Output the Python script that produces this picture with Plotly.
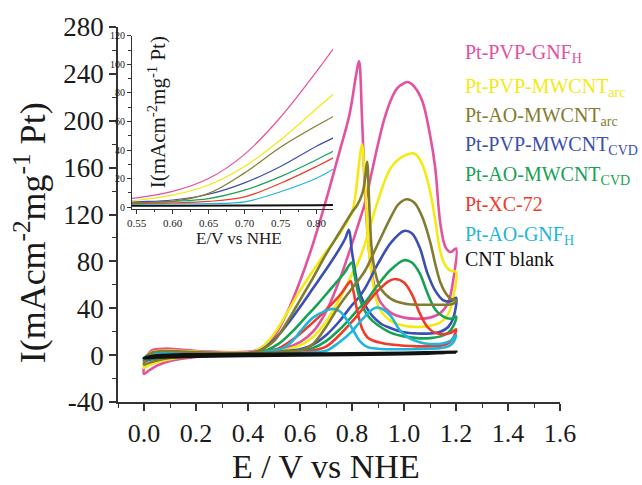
import plotly.graph_objects as go

# ---- Cyclic voltammograms (E in V vs NHE, I in mA cm-2 mg-1 Pt) ----
# each sample: anodic (forward) sweep 0 -> 1.2 V, then cathodic (reverse) sweep 1.2 -> 0 V

pvp_gnf_fwd_e = [0.0, 0.01, 0.03, 0.08, 0.15, 0.25, 0.35, 0.45, 0.55, 0.60, 0.65, 0.70, 0.75, 0.80, 0.825,
                 0.85, 0.875, 0.90, 0.925, 0.95, 0.975, 1.00, 1.015, 1.04, 1.07, 1.10, 1.12, 1.14, 1.16, 1.18, 1.20]
pvp_gnf_fwd_i = [-16, -2, 4, 5.5, 4.5, 3, 2.5, 3.5, 6.5, 11, 20, 37, 63, 95, 112,
                 130, 155, 180, 202, 218, 228, 232, 233, 229, 217, 188, 160, 112, 92, 88, 91]
pvp_gnf_rev_e = [1.20, 1.19, 1.17, 1.14, 1.10, 1.05, 1.00, 0.95, 0.91, 0.885, 0.865, 0.85, 0.838, 0.827, 0.815,
                 0.79, 0.75, 0.70, 0.65, 0.60, 0.55, 0.50, 0.45, 0.40, 0.30, 0.20, 0.10, 0.05, 0.02, 0.0]
pvp_gnf_rev_i = [91, 65, 45, 36, 32, 31, 32, 36, 45, 60, 90, 140, 205, 251, 238,
                 205, 172, 132, 95, 63, 36, 16, 6, 2, 0, -1.5, -5, -9, -13, -16]

pvp_arc_fwd_e = [0.0, 0.01, 0.03, 0.08, 0.15, 0.25, 0.35, 0.45, 0.55, 0.60, 0.65, 0.70, 0.75, 0.80, 0.825,
                 0.85, 0.90, 0.95, 1.00, 1.04, 1.07, 1.10, 1.12, 1.14, 1.16, 1.18, 1.20]
pvp_arc_fwd_i = [-11, -1.5, 2.5, 4, 3.5, 2.5, 2, 2.5, 4.8, 8.4, 15.5, 28.5, 47, 69, 80,
                 95, 132, 160, 170, 172, 163, 140, 115, 88, 76, 72, 71]
pvp_arc_rev_e = [1.20, 1.19, 1.17, 1.14, 1.10, 1.05, 1.00, 0.95, 0.91, 0.89, 0.875, 0.862, 0.85, 0.838, 0.828,
                 0.815, 0.80, 0.75, 0.70, 0.65, 0.60, 0.55, 0.50, 0.45, 0.40, 0.30, 0.20, 0.10, 0.05, 0.02, 0.0]
pvp_arc_rev_i = [71, 50, 35, 28, 25, 24, 25, 29, 38, 50, 70, 97, 148, 180, 165,
                 140, 122, 103, 88, 72, 55, 36, 18, 6, 1.5, 0, -1, -3.5, -6, -8.5, -11]

ao_arc_fwd_e = [0.0, 0.01, 0.03, 0.08, 0.15, 0.25, 0.35, 0.45, 0.55, 0.60, 0.65, 0.70, 0.75, 0.80, 0.825,
                0.85, 0.90, 0.95, 0.98, 1.01, 1.04, 1.07, 1.10, 1.12, 1.14, 1.16, 1.18, 1.20]
ao_arc_fwd_i = [-8, -1.5, 2, 3.5, 3, 2, 1.5, 2, 3, 4, 9.6, 24, 42, 57, 64,
                72, 95, 118, 129, 133, 130, 118, 97, 78, 62, 53, 48, 47]
ao_arc_rev_e = [1.20, 1.19, 1.17, 1.14, 1.10, 1.05, 1.00, 0.95, 0.91, 0.89, 0.876, 0.866, 0.858, 0.85, 0.84,
                0.82, 0.80, 0.75, 0.70, 0.65, 0.60, 0.55, 0.50, 0.45, 0.40, 0.30, 0.20, 0.10, 0.05, 0.02, 0.0]
ao_arc_rev_i = [47, 44, 43, 43, 43, 43, 44, 48, 57, 70, 90, 130, 165, 150, 138,
                128, 122, 104, 86, 66, 47, 28, 12, 4.5, 1.5, 0, -1, -2.5, -4.5, -6.5, -8]

pvp_cvd_fwd_e = [0.0, 0.01, 0.03, 0.08, 0.15, 0.25, 0.35, 0.45, 0.55, 0.60, 0.65, 0.70, 0.75, 0.80, 0.825,
                 0.85, 0.90, 0.95, 1.00, 1.03, 1.06, 1.09, 1.12, 1.15, 1.18, 1.20]
pvp_cvd_fwd_i = [-5, -1, 1.5, 3, 2.5, 2, 1.5, 2, 3.7, 5, 9, 17, 28.5, 42.7, 49,
                 57, 78, 96, 106, 104, 92, 70, 55, 47, 46, 49]
pvp_cvd_rev_e = [1.20, 1.19, 1.17, 1.14, 1.10, 1.05, 1.00, 0.95, 0.91, 0.88, 0.856, 0.835, 0.82, 0.80, 0.788,
                 0.775, 0.75, 0.70, 0.65, 0.60, 0.55, 0.50, 0.45, 0.40, 0.30, 0.20, 0.10, 0.05, 0.02, 0.0]
pvp_cvd_rev_i = [49, 32, 24, 20, 18.5, 18.5, 19.5, 23, 27, 33, 40.6, 50, 62, 88, 107,
                 100, 90, 73, 57, 41, 26, 13, 4.5, 1.5, 0, -0.5, -2, -3, -4, -5]

ao_cvd_fwd_e = [0.0, 0.01, 0.03, 0.08, 0.15, 0.25, 0.35, 0.45, 0.55, 0.60, 0.65, 0.70, 0.75, 0.80, 0.825,
                0.85, 0.90, 0.95, 1.00, 1.03, 1.06, 1.09, 1.12, 1.15, 1.18, 1.20]
ao_cvd_fwd_i = [-4, -1, 1, 2.5, 2, 1.5, 1, 1.5, 3, 4, 6, 11.9, 21.4, 33.2, 39.6,
                45, 60, 73, 81, 79, 70, 53, 39, 33, 31, 33]
ao_cvd_rev_e = [1.20, 1.19, 1.17, 1.14, 1.10, 1.05, 1.00, 0.95, 0.91, 0.88, 0.86, 0.84, 0.825, 0.81, 0.80,
                0.79, 0.77, 0.72, 0.67, 0.62, 0.57, 0.52, 0.47, 0.42, 0.30, 0.20, 0.10, 0.05, 0.02, 0.0]
ao_cvd_rev_i = [33, 25, 19, 16, 14.5, 14.5, 16, 19, 24, 29, 34, 42, 52, 68, 79,
                77, 70, 57, 44, 32, 20, 10, 4, 1.5, 0, -0.5, -1.5, -2.5, -3.2, -4]

xc72_fwd_e = [0.0, 0.01, 0.03, 0.08, 0.15, 0.25, 0.35, 0.45, 0.55, 0.60, 0.65, 0.70, 0.75, 0.80, 0.825,
              0.85, 0.90, 0.94, 0.965, 1.00, 1.03, 1.06, 1.09, 1.12, 1.15, 1.18, 1.20]
xc72_fwd_i = [-3, -0.5, 1, 2, 1.5, 1, 0.5, 1, 2.5, 3, 4, 7.2, 16.7, 28.5, 35,
              42, 55, 63, 65, 62, 52, 36, 24, 19, 18, 19, 22]
xc72_rev_e = [1.20, 1.19, 1.17, 1.14, 1.10, 1.05, 1.00, 0.95, 0.91, 0.88, 0.86, 0.84, 0.82, 0.805, 0.795,
              0.785, 0.76, 0.72, 0.67, 0.62, 0.57, 0.52, 0.47, 0.42, 0.30, 0.20, 0.10, 0.05, 0.02, 0.0]
xc72_rev_i = [22, 15, 10, 8, 7.5, 7.5, 8, 9, 10.5, 12.5, 15, 22, 38, 55, 63,
              61, 53, 43, 32, 22, 13, 6, 2.5, 1, 0, -0.3, -1, -1.8, -2.4, -3]

ao_gnf_fwd_e = [0.0, 0.01, 0.03, 0.08, 0.15, 0.25, 0.35, 0.45, 0.55, 0.60, 0.65, 0.70, 0.75, 0.80, 0.825,
                0.85, 0.875, 0.895, 0.92, 0.95, 0.985, 1.02, 1.06, 1.10, 1.15, 1.18, 1.20]
ao_gnf_fwd_i = [-3, -0.5, 1, 2, 1.5, 1, 0.5, 1, 2, 2.2, 2.5, 3.7, 10.8, 20.2, 27,
                33, 38.5, 40.6, 39, 33, 21, 14.5, 11, 9.5, 10, 12.5, 17]
ao_gnf_rev_e = [1.20, 1.19, 1.17, 1.14, 1.10, 1.00, 0.95, 0.90, 0.86, 0.83, 0.805, 0.78, 0.755, 0.727,
                0.70, 0.65, 0.60, 0.573, 0.535, 0.497, 0.45, 0.40, 0.30, 0.20, 0.10, 0.05, 0.02, 0.0]
ao_gnf_rev_i = [17, 11, 7.5, 6, 5.5, 5, 5, 5.5, 6.8, 12, 21, 30, 37, 39.5,
                38, 32, 20, 12.5, 6, 4, 2, 1, 0, -0.3, -1, -1.8, -2.4, -3]

blank_fwd_e = [0.0, 0.05, 0.2, 0.4, 0.6, 0.8, 1.0, 1.2]
blank_fwd_i = [-2.5, -0.5, 0.5, 0.8, 1.0, 1.4, 1.8, 2.5]
blank_rev_e = [1.2, 1.0, 0.8, 0.6, 0.4, 0.2, 0.05, 0.0]
blank_rev_i = [2.5, 1.0, 0.5, 0.0, -0.5, -1.0, -1.8, -2.5]

# legend labels (HTML for subscripts) and colours
labels = ["Pt-PVP-GNF<sub>H</sub>", "Pt-PVP-MWCNT<sub>arc</sub>", "Pt-AO-MWCNT<sub>arc</sub>",
          "Pt-PVP-MWCNT<sub>CVD</sub>", "Pt-AO-MWCNT<sub>CVD</sub>", "Pt-XC-72",
          "Pt-AO-GNF<sub>H</sub>", "CNT blank"]
colors = ["#e2529e", "#f4ea12", "#827c30", "#3a4fb2", "#16a254", "#f03a2a", "#1eb6da", "#111111"]

sweeps = [
    (pvp_gnf_fwd_e, pvp_gnf_fwd_i, pvp_gnf_rev_e, pvp_gnf_rev_i),
    (pvp_arc_fwd_e, pvp_arc_fwd_i, pvp_arc_rev_e, pvp_arc_rev_i),
    (ao_arc_fwd_e, ao_arc_fwd_i, ao_arc_rev_e, ao_arc_rev_i),
    (pvp_cvd_fwd_e, pvp_cvd_fwd_i, pvp_cvd_rev_e, pvp_cvd_rev_i),
    (ao_cvd_fwd_e, ao_cvd_fwd_i, ao_cvd_rev_e, ao_cvd_rev_i),
    (xc72_fwd_e, xc72_fwd_i, xc72_rev_e, xc72_rev_i),
    (ao_gnf_fwd_e, ao_gnf_fwd_i, ao_gnf_rev_e, ao_gnf_rev_i),
    (blank_fwd_e, blank_fwd_i, blank_rev_e, blank_rev_i),
]

# ---- page geometry (pixels) ----
W, H = 642, 485
L, R, T, B = 118, 560, 24, 402      # main plotting box


def fx(px):
    return (px - L) / (R - L)


def fy(py):
    return (B - py) / (B - T)


SERIF = "Liberation Serif"
AXIS_COL = "#333333"
TXT_COL = "#1a1a1a"

fig = go.Figure()

draw_order = [0, 1, 3, 4, 5, 6, 2, 7]
for k in draw_order:
    fe, fi, re_, ri = sweeps[k]
    fig.add_trace(go.Scatter(
        x=fe + re_[1:], y=fi + ri[1:], mode="lines",
        line=dict(color=colors[k], width=3.2 if k == 7 else 2.6, shape="spline", smoothing=1.0),
        showlegend=False, hoverinfo="skip"))

# inset: forward sweeps on an expanded scale
for k in [7, 6, 5, 4, 3, 2, 1, 0]:
    fe, fi, _, _ = sweeps[k]
    fig.add_trace(go.Scatter(
        x=fe, y=fi, mode="lines", xaxis="x2", yaxis="y2",
        line=dict(color=colors[k], width=2.0 if k == 7 else 1.2, shape="spline", smoothing=1.0),
        showlegend=False, hoverinfo="skip"))

main_y_ticks = [-40, 0, 40, 80, 120, 160, 200, 240, 280]
main_x_ticks = [0.0, 0.2, 0.4, 0.6, 0.8, 1.0, 1.2, 1.4, 1.6]
inset_x_ticks = [0.55, 0.60, 0.65, 0.70, 0.75, 0.80]
inset_y_ticks = [0, 20, 40, 60, 80, 100, 120]

axis_common = dict(showline=True, linecolor=AXIS_COL, linewidth=1.6, ticks="outside",
                   tickcolor=AXIS_COL, tickwidth=1.5, showgrid=False, zeroline=False)

fig.update_layout(
    width=W, height=H,
    margin=dict(l=L, r=W - R, t=T, b=H - B, pad=0),
    paper_bgcolor="white", plot_bgcolor="rgba(0,0,0,0)",
    font=dict(family=SERIF, color=TXT_COL),
    xaxis=dict(domain=[0, 1], range=[-0.1, 1.6], tickmode="array", tickvals=main_x_ticks,
               ticktext=[f"{v:.1f}" for v in main_x_ticks], ticklen=7,
               minor=dict(tickmode="linear", tick0=-0.1, dtick=0.2, ticklen=4, tickcolor=AXIS_COL, tickwidth=1.3),
               tickfont=dict(family=SERIF, size=26, color=TXT_COL), **axis_common),
    yaxis=dict(domain=[0, 1], range=[-40, 280], tickmode="array", tickvals=main_y_ticks,
               ticktext=[str(v) for v in main_y_ticks], ticklen=7,
               minor=dict(tickmode="linear", tick0=-20, dtick=40, ticklen=4, tickcolor=AXIS_COL, tickwidth=1.3),
               tickfont=dict(family=SERIF, size=27, color=TXT_COL), **axis_common),
    xaxis2=dict(domain=[fx(132), fx(333)], anchor="y2", range=[0.5435, 0.823], tickmode="array",
                tickvals=inset_x_ticks, ticktext=[f"{v:.2f}" for v in inset_x_ticks], ticklen=4,
                minor=dict(tickmode="linear", tick0=0.525, dtick=0.05, ticklen=2.5, tickcolor=AXIS_COL),
                tickfont=dict(family=SERIF, size=11, color=TXT_COL),
                **{**axis_common, "linewidth": 1.2, "tickwidth": 1}),
    yaxis2=dict(domain=[fy(207), fy(33)], anchor="x2", range=[-1, 120], tickmode="array",
                tickvals=inset_y_ticks, ticktext=[str(v) for v in inset_y_ticks], ticklen=4,
                minor=dict(tickmode="linear", tick0=10, dtick=20, ticklen=2.5, tickcolor=AXIS_COL),
                tickfont=dict(family=SERIF, size=10, color=TXT_COL),
                **{**axis_common, "linewidth": 1.2, "tickwidth": 1}),
)

ann = []
# main axis titles
ann.append(dict(text="E / V vs NHE", x=fx(326), y=fy(467), xref="paper", yref="paper",
                showarrow=False, xanchor="center", yanchor="middle",
                font=dict(family=SERIF, size=34, color=TXT_COL)))
ann.append(dict(text="I(mAcm<sup>-2</sup>mg<sup>-1</sup> Pt)", x=fx(30), y=fy(232), xref="paper", yref="paper",
                showarrow=False, textangle=-90, xanchor="center", yanchor="middle",
                font=dict(family=SERIF, size=36, color=TXT_COL)))
# inset axis titles
ann.append(dict(text="E/V vs NHE", x=fx(239), y=fy(237), xref="paper", yref="paper",
                showarrow=False, xanchor="center", yanchor="middle",
                font=dict(family=SERIF, size=17, color=TXT_COL)))
ann.append(dict(text="I(mAcm<sup>-2</sup>mg<sup>-1</sup> Pt)", x=fx(157), y=fy(110), xref="paper", yref="paper",
                showarrow=False, textangle=-90, xanchor="center", yanchor="middle",
                font=dict(family=SERIF, size=21, color=TXT_COL)))
# coloured legend text
legend_y = [47, 81, 110, 139, 170, 202, 230, 258]
for k, (lab, col) in enumerate(zip(labels, colors)):
    has_sub = "<sub>" in lab
    ann.append(dict(text=lab, x=fx(463), y=fy(legend_y[k] + (4 if has_sub else 0)), xref="paper", yref="paper",
                    showarrow=False, xanchor="left", yanchor="middle",
                    font=dict(family=SERIF, size=20, color=col)))
fig.update_layout(annotations=ann)

fig.write_html("out.html")
